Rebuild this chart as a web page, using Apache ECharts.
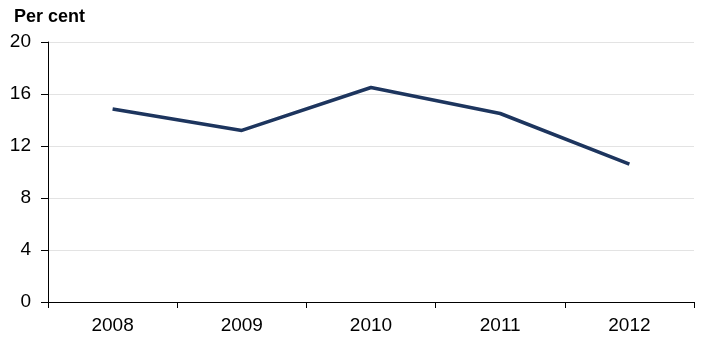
<!DOCTYPE html>
<html>
<head>
<meta charset="utf-8">
<script src="https://cdn.jsdelivr.net/npm/echarts@6/dist/echarts.min.js"></script>
<style>
  html, body { margin: 0; padding: 0; background: #fff; }
  #chart { width: 704px; height: 352px; }
</style>
</head>
<body>
<div id="chart"></div>
<script>
const years = ['2008', '2009', '2010', '2011', '2012']
const perCent = [14.85, 13.2, 16.5, 14.5, 10.6]
const yTicks = { min: 0, max: 20, interval: 4 }

const chart = echarts.init(document.getElementById('chart'))

const font = 'Liberation Sans, Arial, sans-serif'

chart.setOption({
  animation: false,
  grid: { left: 48, right: 10, top: 42, bottom: 50, containLabel: false },
  graphic: [
    {
      type: 'text',
      left: 14,
      top: 8,
      style: { text: 'Per cent', font: 'bold 18px ' + font, fill: '#000' }
    }
  ],
  xAxis: {
    type: 'category',
    data: years,
    boundaryGap: true,
    axisLine: { lineStyle: { color: '#000', width: 1 } },
    axisTick: { show: true, length: 6, inside: false, lineStyle: { color: '#000' } },
    axisLabel: { color: '#000', fontSize: 19, fontFamily: font, margin: 14 }
  },
  yAxis: {
    type: 'value',
    min: yTicks.min,
    max: yTicks.max,
    interval: yTicks.interval,
    axisLine: { show: true, lineStyle: { color: '#000', width: 1 } },
    axisTick: { show: true, length: 7, lineStyle: { color: '#000' } },
    axisLabel: { color: '#000', fontSize: 19, fontFamily: font, margin: 17 },
    splitLine: { lineStyle: { color: '#e3e3e3', width: 1 } }
  },
  series: [
    {
      type: 'line',
      data: perCent,
      symbol: 'none',
      lineStyle: { color: '#1d355e', width: 3.5 },
      itemStyle: { color: '#1d355e' }
    }
  ]
})
</script>
</body>
</html>
